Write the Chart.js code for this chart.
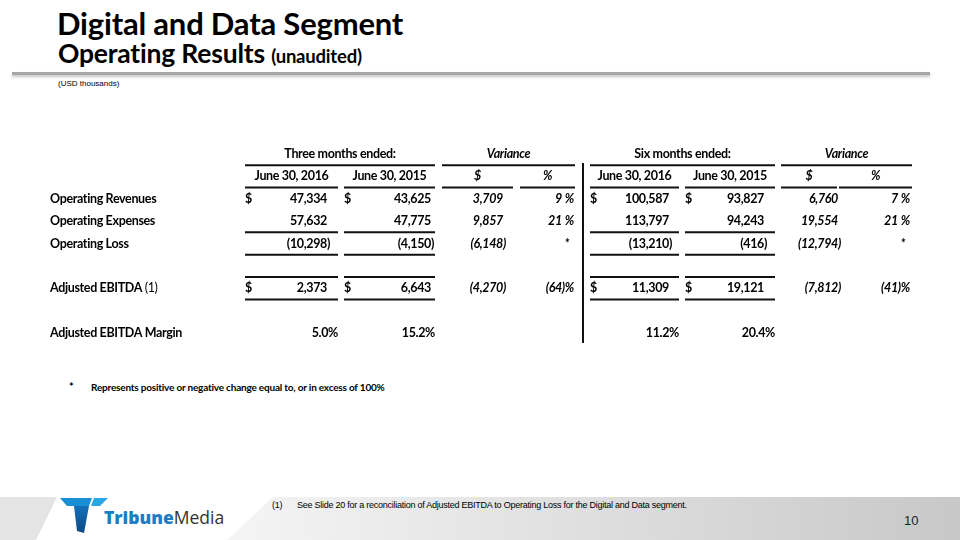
<!DOCTYPE html>
<html>
<head>
<meta charset="utf-8">
<script src="https://cdn.jsdelivr.net/npm/chart.js@4.4.0/dist/chart.umd.min.js"></script>
<style>
  body { margin: 0; width: 960px; height: 540px; overflow: hidden; background: #fff; position: relative; font-family: Lato, sans-serif; }
  .abs { position: absolute; white-space: nowrap; }
  #title { left: 57px; top: 8px; font: bold 31px/31px Lato, sans-serif; color: #000; letter-spacing: -0.2px; }
  #subtitle { left: 58px; top: 40px; font: bold 26.5px/26px Lato, sans-serif; color: #000; letter-spacing: -0.2px; }
  #subtitle small { font-size: 18.5px; }
  #rule { left: 12px; top: 72px; width: 918px; height: 3px; background: #a6a6a6; box-shadow: 0 2px 3px rgba(0,0,0,0.25); }
  #units { left: 58px; top: 79px; font: 8px/10px "Liberation Sans", Arial, sans-serif; color: #000; }
  #star { left: 69px; top: 380px; font: bold 11px/14px Lato, sans-serif; }
  #starText { left: 91px; top: 380px; font: bold 10px/14px Lato, sans-serif; letter-spacing: -0.2px; }
  #band { left: 0; top: 497px; width: 960px; height: 43px; background: linear-gradient(to right, #f4f4f4 25%, #c8c8c8); clip-path: polygon(273px 0, 960px 0, 960px 43px, 227px 43px); }
  #bandLeft { left: 0; top: 497px; width: 60px; height: 43px; background: #e4e4e4; clip-path: polygon(0 0, 57px 0, 36px 43px, 0 43px); }
  #note { left: 272px; top: 500px; font: 9px/10px "Liberation Sans", Arial, sans-serif; color: #000; letter-spacing: -0.25px; }
  #noteText { left: 297px; top: 500px; font: 9px/10px "Liberation Sans", Arial, sans-serif; color: #000; letter-spacing: -0.25px; }
  #page { left: 904px; top: 513px; font: 13px/16px "Liberation Sans", Arial, sans-serif; color: #222; }
  #brand { left: 104px; top: 506px; font: 17.5px/22px "Open Sans", sans-serif; color: #333; }
  #brand b { color: #1e7cc2; font-weight: 800; }
  #logo { left: 0; top: 480px; }
  canvas { position: absolute; left: 0; top: 0; }
</style>
</head>
<body>
<div class="abs" id="title">Digital and Data Segment</div>
<div class="abs" id="subtitle">Operating Results <small>(unaudited)</small></div>
<div class="abs" id="rule"></div>
<div class="abs" id="units">(USD thousands)</div>
<div class="abs" id="star">*</div>
<div class="abs" id="starText">Represents positive or negative change equal to, or in excess of 100%</div>
<div class="abs" id="bandLeft"></div>
<div class="abs" id="band"></div>
<svg class="abs" id="logo" width="120" height="60">
  <defs>
    <linearGradient id="stem" x1="0" y1="0" x2="0" y2="1">
      <stop offset="0" stop-color="#1670b8"/><stop offset="1" stop-color="#0b4a86"/>
    </linearGradient>
  </defs>
  <polygon points="60,18 92,18 89,26 67,26" fill="#1b8fd6"/>
  <polygon points="94,18 108,18 100,26 91,26" fill="#2ba6e4"/>
  <polygon points="74,26 89,26 84,53 77,51" fill="url(#stem)"/>
</svg>
<div class="abs" id="brand"><b>Tribune</b>Media</div>
<div class="abs" id="note">(1)</div>
<div class="abs" id="noteText">See Slide 20 for a reconciliation of Adjusted EBITDA to Operating Loss for the Digital and Data segment.</div>
<div class="abs" id="page">10</div>
<canvas id="table" width="960" height="540"></canvas>

<script>
// ---- data ----
const periods = ['Three months ended:', 'Six months ended:'];
const columnHeads = ['June 30, 2016', 'June 30, 2015', '$', '%'];
const metrics = ['Operating Revenues', 'Operating Expenses', 'Operating Loss', 'Adjusted EBITDA', 'Adjusted EBITDA Margin'];
const dollarSign = [true, false, false, true, false];

const threeMo2016 = [47334, 57632, -10298, 2373, 5.0];
const threeMo2015 = [43625, 47775, -4150, 6643, 15.2];
const threeMoVarAmt = [3709, 9857, -6148, -4270, null];
const threeMoVarPct = [9, 21, '*', -64, null];

const sixMo2016 = [100587, 113797, -13210, 11309, 11.2];
const sixMo2015 = [93827, 94243, -416, 19121, 20.4];
const sixMoVarAmt = [6760, 19554, -12794, -7812, null];
const sixMoVarPct = [7, 21, '*', -41, null];

// ---- layout (x in page pixels on a 0..960 scale, rows on a 0..8 scale) ----
const columns = [threeMo2016, threeMo2015, threeMoVarAmt, threeMoVarPct, sixMo2016, sixMo2015, sixMoVarAmt, sixMoVarPct];
const colKind = ['amt', 'amt', 'var', 'pct', 'amt', 'amt', 'var', 'pct'];
const colLeft = [245, 344, 442, 520, 590, 685, 781, 839];
const colRight = [338, 435, 513, 575, 679, 775, 837, 912];
const numRight = [327, 431, 503, 574, 669, 764, 838, 910];
const groupSpans = [[245, 435], [442, 575], [590, 775], [781, 912]];
const metricRow = [2, 3, 4, 6, 8];
const labelX = 50;
const dividerX = 583;

const FONT = 'Lato, sans-serif';
const SIZE = '12.5px';

const tablePlugin = {
  id: 'tableCells',
  afterDraw(chart) {
    const { ctx, scales: { x, y } } = chart;
    const X = v => x.getPixelForValue(v);
    const Y = v => y.getPixelForValue(v);
    ctx.save();
    ctx.fillStyle = '#000';
    ctx.strokeStyle = '#111';
    ctx.textBaseline = 'middle';
    ctx.letterSpacing = '-0.35px';

    const text = (s, px, py, align, font) => {
      ctx.font = font;
      ctx.textAlign = align;
      ctx.fillText(s, px, py);
    };
    const hline = (x0, x1, r) => {
      ctx.lineWidth = 2;
      ctx.beginPath();
      ctx.moveTo(X(x0), Y(r));
      ctx.lineTo(X(x1), Y(r));
      ctx.stroke();
    };
    const bold = `bold ${SIZE} ${FONT}`;
    const italic = `italic bold ${SIZE} ${FONT}`;

    // group headings
    groupSpans.forEach((span, i) => {
      const label = i % 2 === 0 ? periods[i / 2] : 'Variance';
      text(label, X((span[0] + span[1]) / 2), Y(0), 'center', i % 2 === 0 ? bold : italic);
      hline(span[0], span[1], 0.5);
    });

    // column headings
    columns.forEach((col, c) => {
      const head = columnHeads[c % 4];
      text(head, X((colLeft[c] + colRight[c]) / 2), Y(1), 'center', c % 4 < 2 ? bold : italic);
      hline(colLeft[c], colRight[c], 1.5);
    });

    // row labels
    metrics.forEach((m, i) => {
      const py = Y(metricRow[i]);
      text(m, X(labelX), py, 'left', bold);
      if (m === 'Adjusted EBITDA') {
        const w = ctx.measureText(m + ' ').width;
        text('(1)', X(labelX) + w, py, 'left', `${SIZE} ${FONT}`);
      }
    });

    // values
    columns.forEach((col, c) => {
      const kind = colKind[c];
      const font = kind === 'amt' ? bold : italic;
      ctx.font = font;
      const parenW = ctx.measureText(')').width;
      const pctW = ctx.measureText('%').width;
      col.forEach((v, i) => {
        if (v === null) return;
        const py = Y(metricRow[i]);
        const right = X(numRight[c]);
        if (metrics[i] === 'Adjusted EBITDA Margin') {
          text(v.toFixed(1) + '%', X(colRight[c]), py, 'right', font);
          return;
        }
        if (kind === 'pct') {
          if (v === '*') { text('*', right - 5, py, 'right', font); return; }
          text('%', right, py, 'right', font);
          if (v < 0) text('(' + Math.abs(v) + ')', right - pctW, py, 'right', font);
          else text(String(v), right - pctW - parenW, py, 'right', font);
          return;
        }
        const s = Math.abs(v).toLocaleString('en-US');
        if (v < 0) text('(' + s + ')', right + parenW, py, 'right', font);
        else text(s, right, py, 'right', font);
        if (kind === 'amt' && dollarSign[i]) text('$', X(colLeft[c]), py, 'left', font);
      });
    });

    // rules around Operating Loss and Adjusted EBITDA in the amount columns
    columns.forEach((col, c) => {
      if (colKind[c] !== 'amt') return;
      [3.5, 4.5, 5.5, 6.5].forEach(r => hline(colLeft[c], colRight[c], r));
    });

    // divider between three and six months
    ctx.lineWidth = 2;
    ctx.beginPath();
    ctx.moveTo(X(dividerX), Y(0.4));
    ctx.lineTo(X(dividerX), Y(8.45));
    ctx.stroke();
    ctx.restore();
  }
};

new Chart(document.getElementById('table'), {
  type: 'scatter',
  data: { datasets: [] },
  options: {
    responsive: false,
    animation: false,
    layout: { padding: { left: 0, right: 0, top: 154, bottom: 207 } },
    plugins: { legend: { display: false }, tooltip: { enabled: false } },
    scales: {
      x: { type: 'linear', min: 0, max: 960, display: false },
      y: { type: 'linear', min: 0, max: 8, reverse: true, display: false }
    }
  },
  plugins: [tablePlugin]
});
</script>
</body>
</html>
